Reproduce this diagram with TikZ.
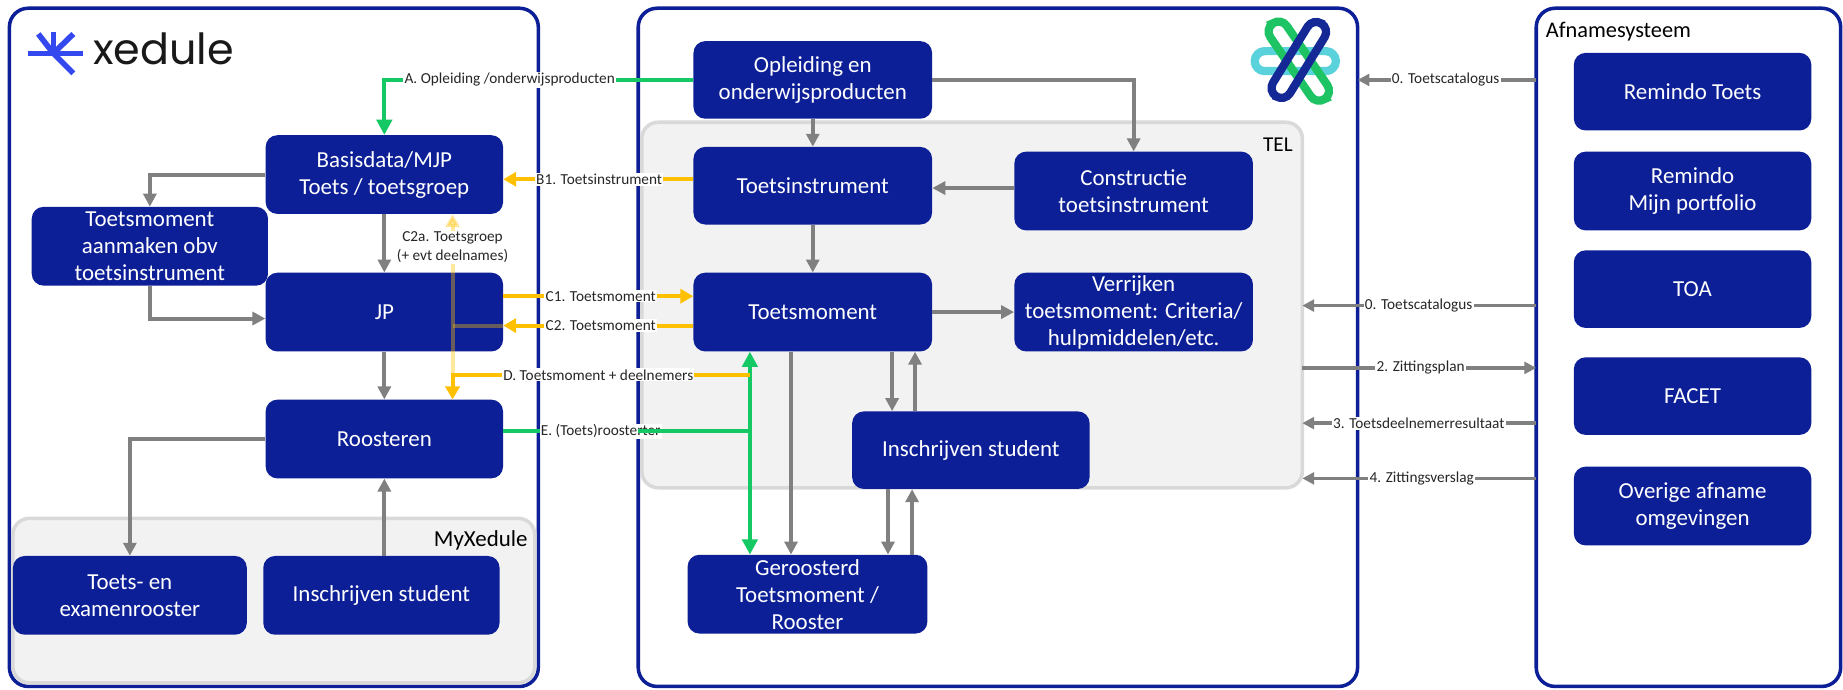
\documentclass[tikz,border=0pt]{standalone}
\usepackage{fontspec}
\setmainfont{Carlito}
\newfontfamily\poppins{Poppins}
\usetikzlibrary{arrows.meta}
\definecolor{dblue}{RGB}{12,31,150}
\definecolor{garea}{RGB}{242,242,242}
\definecolor{gborder}{RGB}{217,217,217}
\definecolor{arrgray}{RGB}{128,128,128}
\definecolor{ylw}{RGB}{255,192,0}
\definecolor{grn}{RGB}{20,200,100}
\definecolor{xblue}{RGB}{52,72,240}
\definecolor{xtext}{RGB}{25,25,25}
\definecolor{telgreen}{RGB}{30,195,100}
\definecolor{telcyan}{RGB}{90,210,220}
\definecolor{telblue}{RGB}{20,40,150}
\definecolor{lbltext}{RGB}{38,38,38}
\begin{document}
\begin{tikzpicture}[x=1pt,y=-1pt,
  box/.style={fill=dblue, rounded corners=10pt, minimum width=202pt, minimum height=67pt,
    inner sep=0pt, text=white, align=center, font=\fontsize{19.5}{23}\selectfont},
  panel/.style={draw=dblue, line width=3pt, rounded corners=16pt, fill=white,
    anchor=north west, inner sep=0pt, outer sep=0pt},
  area/.style={draw=gborder, line width=3pt, fill=garea, rounded corners=14pt,
    anchor=north west, inner sep=0pt, outer sep=0pt},
  lbl/.style={fill=white, inner sep=1pt, text=lbltext, font=\fontsize{13}{15}\selectfont, anchor=west},
  ga/.style={draw=arrgray, line width=3.4pt, -{Triangle[length=11pt,width=11pt]}},
  gl/.style={draw=arrgray, line width=3pt, -{Triangle[length=10pt,width=10pt]}},
  gra/.style={draw=grn, line width=3.6pt, -{Triangle[length=13pt,width=13pt]}},
  grl/.style={draw=grn, line width=3.6pt},
  grboth/.style={draw=grn, line width=3.6pt, {Triangle[length=13pt,width=13pt]}-{Triangle[length=13pt,width=13pt]}},
  ya/.style={draw=ylw, line width=3.4pt, -{Triangle[length=11pt,width=12pt]}},
  yl/.style={draw=ylw, line width=3.4pt},
  pill/.style={line width=7pt, rounded corners=8.5pt, minimum height=17pt, inner sep=0pt, outer sep=0pt}
]
\fill[white] (0,0) rectangle (1568,586.2);
\useasboundingbox (0,0) rectangle (1568,586.2);

% panels
\node[panel, minimum width=450pt, minimum height=577pt] (lp) at (8,7) {};
\node[panel, minimum width=612pt, minimum height=577pt] (cp) at (543,7) {};
\node[panel, minimum width=259pt, minimum height=577pt] (rp) at (1307,7) {};

% grey areas
\node[area, minimum width=562pt, minimum height=311pt] (tel) at (546,104) {};
\node[area, minimum width=444pt, minimum height=140pt] (myx) at (11,441) {};
\node[anchor=base east, inner sep=0pt, font=\fontsize{18}{20}\selectfont, text=black] (tellbl) at ([xshift=-8pt,yshift=-25pt]tel.north east) {TEL};
\node[anchor=base east, inner sep=0pt, font=\fontsize{19.5}{22}\selectfont, text=black] (myxlbl) at ([xshift=-6pt,yshift=-24pt]myx.north east) {MyXedule};
\node[anchor=base west, inner sep=0pt, font=\fontsize{19}{22}\selectfont, text=black] (afn) at (1315,32) {Afnamesysteem};

% xedule logo
\coordinate (xc) at (45.4,45.4);
\draw[xblue, line width=4.8pt] (xc) -- (32.6,28.9);
\draw[xblue, line width=4.8pt] (xc) -- (45.4,27.5);
\draw[xblue, line width=4.8pt] (xc) -- (62.4,28.9);
\draw[xblue, line width=4.8pt] (24.1,45.4) -- (70.9,45.4);
\draw[xblue, line width=4.8pt] (xc) -- (62.4,62.4);
\node[anchor=base west, inner sep=0pt, font=\poppins\fontsize{36.5}{40}\selectfont, text=xtext] (xlogo) at (79,55) {xedule};

% TEL logo
\node[pill, draw=telcyan, minimum width=69pt] (lgc) at (1102,52) {};
\node[pill, draw=telgreen, minimum width=78pt, rotate=-55.6] (lgg) at (1105,52) {};
\node[pill, draw=telblue, minimum width=73pt, rotate=58.3] (lgb) at (1105,51) {};

% boxes left
\node[box] (bas) at (327,148.5) {Basisdata/MJP\\Toets / toetsgroep};
\node[box, minimum width=201pt] (tmaan) at (127.5,209.5) {Toetsmoment\\aanmaken obv\\toetsinstrument};
\node[box] (jp) at (327,265.5) {JP};
\node[box] (roost) at (327,373.5) {Roosteren};
\node[box, minimum width=199pt] (ter) at (110.5,506.5) {Toets- en\\examenrooster};
\node[box, minimum width=201pt] (insL) at (324.5,506.5) {Inschrijven student};

% boxes center
\node[box, minimum width=203pt, minimum height=66pt] (opl) at (691.5,68) {Opleiding en\\onderwijsproducten};
\node[box, minimum width=203pt, minimum height=66pt] (ti) at (691.5,158) {Toetsinstrument};
\node[box, minimum width=203pt] (con) at (964.5,162.5) {Constructie\\toetsinstrument};
\node[box, minimum width=203pt] (tm) at (691.5,265.5) {Toetsmoment};
\node[box, minimum width=203pt] (ver) at (964.5,265.5) {Verrijken\\toetsmoment: Criteria/\\hulpmiddelen/etc.};
\node[box, minimum height=66pt] (insC) at (826,383) {Inschrijven student};
\node[box, minimum width=204pt] (ger) at (687,505.5) {Geroosterd\\Toetsmoment /\\Rooster};

% boxes right
\node[box, minimum height=66pt] (rt) at (1440,78) {Remindo Toets};
\node[box] (rmp) at (1440,162.5) {Remindo\\Mijn portfolio};
\node[box, minimum height=66pt] (toa) at (1440,246) {TOA};
\node[box, minimum height=66pt] (facet) at (1440,337) {FACET};
\node[box] (ov) at (1440,430.5) {Overige afname\\omgevingen};

% grey connectors
\draw[ga] (bas.west) -| (tmaan.north);
\draw[ga] (bas.south) -- (jp.north);
\draw[ga] (tmaan.south) |- ([yshift=-5.5pt]jp.west);
\draw[ga] (jp.south) -- (roost.north);
\draw[ga] (roost.west) -| (ter.north);
\draw[ga] (roost.south |- insL.north) -- (roost.south);
\draw[ga] (opl.south) -- (ti.north);
\draw[ga] (opl.east) -| (con.north);
\draw[ga] ([yshift=2.5pt]con.west) -- ([yshift=2.5pt]con.west -| ti.east);
\draw[ga] (ti.south) -- (tm.north);
\draw[ga] (tm.east) -- (ver.west);
\draw[ga] ([xshift=-67pt]insC.north |- tm.south) -- ([xshift=-67pt]insC.north);
\draw[ga] ([xshift=-47.5pt]insC.north) -- ([xshift=-47.5pt]insC.north |- tm.south);
\draw[ga] ([xshift=-18.5pt]tm.south) -- ([xshift=-18.5pt]tm.south |- ger.north);
\draw[ga] ([xshift=-70.5pt]insC.south) -- ([xshift=-70.5pt]insC.south |- ger.north);
\draw[ga] ([xshift=-50pt]insC.south |- ger.north) -- ([xshift=-50pt]insC.south);

% green connectors
\coordinate (ej) at (638,367);
\draw[gra] (opl.west) -| (bas.north);
\draw[grl] ([yshift=6.5pt]roost.east) -- (ej);
\draw[grboth] (tm.south -| ej) -- (ger.north -| ej);

% yellow connectors
\coordinate (dc) at (385,319);
\draw[ya] ([yshift=5.5pt]ti.west) -- ([yshift=5.5pt]ti.west -| bas.east);
\draw[ya] ([yshift=13.5pt]jp.east) -- ([yshift=13.5pt]jp.east -| tm.west);
\draw[ya] ([yshift=-11.5pt]tm.west) -- ([yshift=-11.5pt]tm.west -| jp.east);
\draw[ya, opacity=0.38] (dc) -- (dc |- bas.south);
\draw[yl, opacity=0.38] ([yshift=-11.5pt]jp.east) -- ([yshift=-11.5pt]jp.east -| dc);
\draw[ya] (ej |- dc) -- (dc) -- (dc |- roost.north);

% right connectors
\coordinate (r0) at (0,260);
\coordinate (r2) at (0,313);
\coordinate (r3) at (0,360);
\coordinate (r4) at (0,407);
\draw[gl] (rp.west |- opl.east) -- (cp.east |- opl.east);
\draw[gl] (rp.west |- r0) -- (tel.east |- r0);
\draw[gl] (tel.east |- r2) -- (rp.west |- r2);
\draw[gl] (rp.west |- r3) -- (tel.east |- r3);
\draw[gl] (rp.west |- r4) -- (tel.east |- r4);

% labels
\node[lbl] (la) at (343,68) {A. Opleiding /onderwijsproducten};
\node[lbl] (lb1) at (455,152.5) {B1. Toetsinstrument};
\node[lbl] (lc1) at (463,252) {C1. Toetsmoment};
\node[lbl] (lc2) at (463,277) {C2. Toetsmoment};
\node[lbl] (ld) at (427,319) {D. Toetsmoment + deelnemers};
\node[lbl] (le) at (459,367) {E. (Toets)roosterter};
\node[lbl, anchor=center, align=center, font=\fontsize{13}{16}\selectfont] (lc2a) at (385,210.5) {C2a. Toetsgroep\\(+ evt deelnames)};
\node[lbl] (l0a) at (1183,68) {0. Toetscatalogus};
\node[lbl] (l0b) at (1160,260) {0. Toetscatalogus};
\node[lbl] (l2) at (1170,313) {2. Zittingsplan};
\node[lbl] (l3) at (1133,360) {3. Toetsdeelnemerresultaat};
\node[lbl] (l4) at (1164,407) {4. Zittingsverslag};

% green over the end of the E label
\draw[grl] (cp.west |- ej) -- (ej);
\end{tikzpicture}
\end{document}
